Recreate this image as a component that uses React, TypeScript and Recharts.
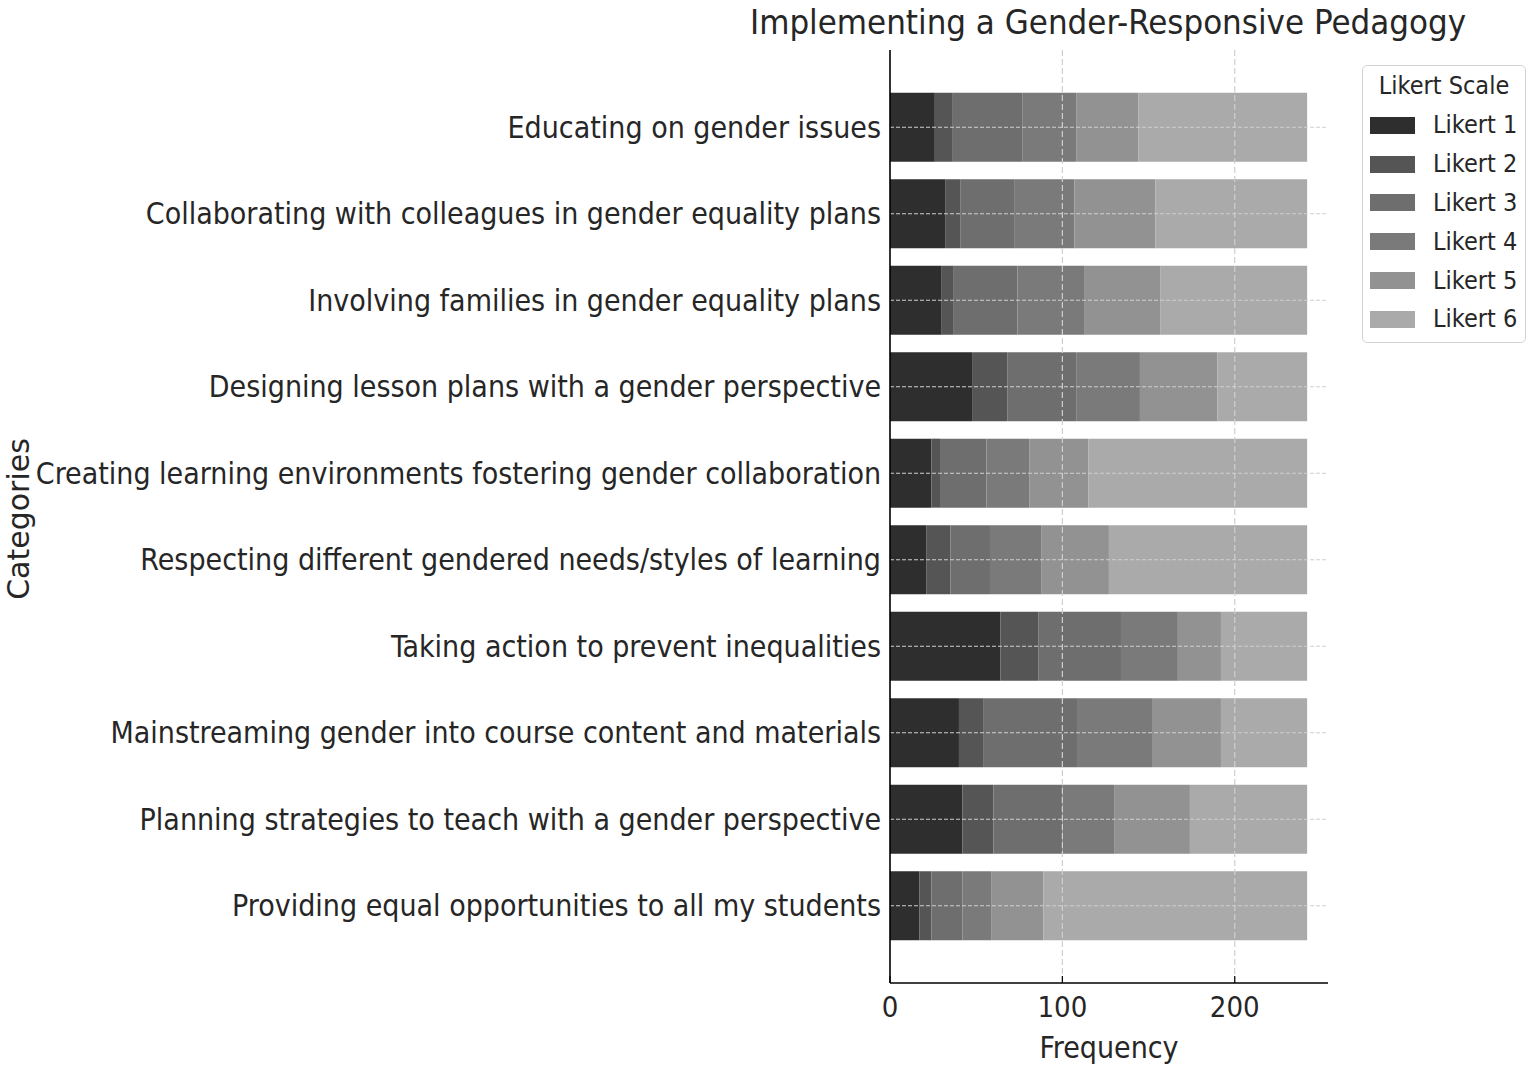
import React from 'react';
import {
  BarChart,
  Bar,
  XAxis,
  YAxis,
  Legend,
  ReferenceLine,
} from 'recharts';

// Likert responses per statement (each row sums to ~242)

const categories = [
  'Educating on gender issues',
  'Collaborating with colleagues in gender equality plans',
  'Involving families in gender equality plans',
  'Designing lesson plans with a gender perspective',
  'Creating learning environments fostering gender collaboration',
  'Respecting different gendered needs/styles of learning',
  'Taking action to prevent inequalities',
  'Mainstreaming gender into course content and materials',
  'Planning strategies to teach with a gender perspective',
  'Providing equal opportunities to all my students',
];

const likert1 = [26, 32, 30, 48, 24, 21, 64, 40, 42, 17];
const likert2 = [10, 9, 7, 20, 5, 14, 22, 14, 18, 7];
const likert3 = [41, 31, 37, 40, 27, 23, 48, 55, 40, 18];
const likert4 = [31, 35, 39, 37, 25, 30, 33, 43, 30, 17];
const likert5 = [36, 47, 44, 45, 34, 39, 25, 40, 44, 30];
const likert6 = [98, 88, 85, 52, 127, 115, 50, 50, 68, 153];

const xTicks = [0, 100, 200];

const series = [
  { key: 'L1', name: 'Likert 1', values: likert1, color: '#2e2e2e' },
  { key: 'L2', name: 'Likert 2', values: likert2, color: '#555555' },
  { key: 'L3', name: 'Likert 3', values: likert3, color: '#6e6e6e' },
  { key: 'L4', name: 'Likert 4', values: likert4, color: '#7a7a7a' },
  { key: 'L5', name: 'Likert 5', values: likert5, color: '#929292' },
  { key: 'L6', name: 'Likert 6', values: likert6, color: '#aaaaaa' },
];

const data = categories.map((category, i) => {
  const row: Record<string, string | number> = { category };
  series.forEach((s) => {
    row[s.key] = s.values[i];
  });
  return row;
});

const condensed = "'DejaVu Sans Condensed', 'DejaVu Sans', sans-serif";
const regular = "'DejaVu Sans', sans-serif";
const textColor = '#262626';
const gridColor = '#cfcfcf';

function LegendBox({ payload }: { payload?: { value: string; color: string }[] }) {
  const items = payload && payload.length ? payload : series.map((s) => ({ value: s.name, color: s.color }));
  return (
    <div
      style={{
        boxSizing: 'border-box',
        width: 164,
        height: 278,
        border: '1.5px solid #d3d3d3',
        borderRadius: 5,
        background: '#fff',
        padding: '5px 0 0 7px',
        fontFamily: condensed,
        color: textColor,
        whiteSpace: 'nowrap',
      }}
    >
      <div style={{ textAlign: 'center', fontSize: 25, lineHeight: '30px', marginLeft: -7 }}>Likert Scale</div>
      <div style={{ marginTop: 5 }}>
        {items.map((p) => (
          <div key={p.value} style={{ display: 'flex', alignItems: 'center', height: 38.8 }}>
            <span style={{ display: 'inline-block', width: 45, height: 17, background: p.color }} />
            <span style={{ marginLeft: 18, fontSize: 25, lineHeight: '30px' }}>{p.value}</span>
          </div>
        ))}
      </div>
    </div>
  );
}

export default function App() {
  return (
    <div style={{ position: 'absolute', left: 0, top: 0, width: 1535, height: 1072 }}>
      <div
        style={{
          position: 'absolute',
          left: 1108,
          top: 5,
          transform: 'translateX(-50%)',
          whiteSpace: 'nowrap',
          fontFamily: condensed,
          fontSize: 34.5,
          lineHeight: '34px',
          color: textColor,
        }}
      >
        Implementing a Gender-Responsive Pedagogy
      </div>
      <BarChart
        width={1535}
        height={1072}
        data={data}
        layout="vertical"
        barCategoryGap="10%"
        margin={{ top: 50, right: 207, left: 0, bottom: 14 }}
      >
        <XAxis
          type="number"
          domain={[0, 254.1]}
          ticks={xTicks}
          height={75}
          tickSize={-7}
          tickMargin={20}
          axisLine={{ stroke: '#000', strokeWidth: 1.6 }}
          tickLine={{ stroke: '#000', strokeWidth: 1.2 }}
          tick={{ fill: textColor, fontSize: 29, fontFamily: condensed }}
          label={{
            value: 'Frequency',
            position: 'insideBottom',
            offset: 0,
            fill: textColor,
            fontSize: 30,
            fontFamily: condensed,
          }}
        />
        <YAxis
          type="category"
          dataKey="category"
          width={890}
          padding={{ top: 34, bottom: 34 }}
          tickLine={false}
          tickSize={0}
          tickMargin={9}
          interval={0}
          axisLine={{ stroke: '#000', strokeWidth: 1.6 }}
          tick={{ fill: textColor, fontSize: 30, fontFamily: condensed }}
          label={{
            content: () => (
              <text
                x={18}
                y={519}
                transform="rotate(-90 18 519)"
                textAnchor="middle"
                dominantBaseline="central"
                fill={textColor}
                fontSize={30}
                fontFamily={regular}
              >
                Categories
              </text>
            ),
          }}
        />
        <Legend
          layout="vertical"
          align="center"
          verticalAlign="middle"
          wrapperStyle={{ left: 1362, top: 65, width: 164, height: 278 }}
          content={(props: any) => <LegendBox payload={props.payload} />}
        />
        {series.map((s) => (
          <Bar
            key={s.key}
            dataKey={s.key}
            name={s.name}
            stackId="a"
            fill={s.color}
            isAnimationActive={false}
          />
        ))}
        {xTicks.slice(1).map((t) => (
          <ReferenceLine key={`x${t}`} x={t} stroke={gridColor} strokeDasharray="6 3" strokeWidth={1.2} />
        ))}
        {categories.map((c) => (
          <ReferenceLine key={`y${c}`} y={c} stroke={gridColor} strokeDasharray="4 2" strokeWidth={1.2} />
        ))}
      </BarChart>
    </div>
  );
}
